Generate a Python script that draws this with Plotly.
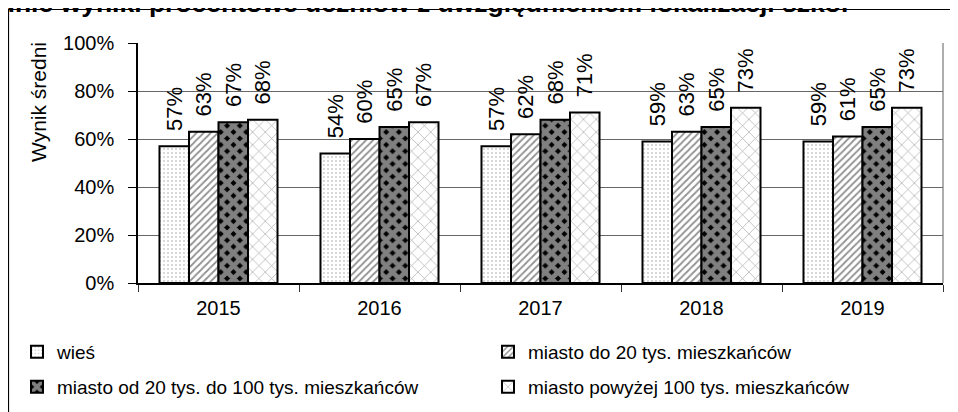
import plotly.graph_objects as go

years = ["2015", "2016", "2017", "2018", "2019"]
series_names = [
    "wieś",
    "miasto do 20 tys. mieszkańców",
    "miasto od 20 tys. do 100 tys. mieszkańców",
    "miasto powyżej 100 tys. mieszkańców",
]
wies = [0.57, 0.54, 0.57, 0.59, 0.59]
miasto_do_20 = [0.63, 0.60, 0.62, 0.63, 0.61]
miasto_20_100 = [0.67, 0.65, 0.68, 0.65, 0.65]
miasto_pow_100 = [0.68, 0.67, 0.71, 0.73, 0.73]
y_ticks = [0, 0.2, 0.4, 0.6, 0.8, 1.0]
title_text = "Średnie wyniki procentowe uczniów z uwzględnieniem lokalizacji szkół"
y_title = "Wynik średni"

values = [wies, miasto_do_20, miasto_20_100, miasto_pow_100]
patterns = [
    dict(shape=".", fgcolor="#444444", bgcolor="white", size=4, solidity=0.12),
    dict(shape="/", fgcolor="#222222", bgcolor="white", size=5, solidity=0.35),
    dict(shape="x", fgcolor="white", bgcolor="black", size=9, solidity=0.78),
    dict(shape="x", fgcolor="#555555", bgcolor="white", size=9, solidity=0.15),
]
legend_ids = ["legend", "legend2", "legend3", "legend4"]

FONT = "Liberation Sans, Arial, sans-serif"

# plot area in page pixels (the page body has an 8px margin)
PL, PT, PR, PB = 138, 43, 943, 283
OFF = 8
PW, PH = PR - PL, PB - PT


def px(xp):
    return (xp - PL) / PW


def py(yp):
    return (PB - yp) / PH


fig = go.Figure()
for name, vals, pat, lg in zip(series_names, values, patterns, legend_ids):
    fig.add_trace(go.Bar(
        x=years, y=vals, name=name, legend=lg,
        marker=dict(color="white", pattern=pat, line=dict(color="black", width=2)),
        texttemplate="\u00a0\u00a0%{y:.0%}",
        textposition="outside",
        textangle=-90,
        constraintext="none",
        cliponaxis=False,
        textfont=dict(family=FONT, size=22, color="black"),
    ))

legend_common = dict(
    orientation="h", xanchor="left", yanchor="middle",
    font=dict(family=FONT, size=19, color="black"),
    itemwidth=30, bgcolor="rgba(0,0,0,0)",
)
# legend positions (page pixels): two columns, two rows
legend_pos = [(17, 352), (488, 352), (17, 387), (488, 387)]

layout_legends = {}
for lg, (lx, ly) in zip(legend_ids, legend_pos):
    layout_legends[lg] = dict(legend_common, x=px(lx), y=py(ly))

fig.update_layout(
    width=958, height=412,
    margin=dict(l=PL - OFF, r=958 - (PR - OFF), t=PT - OFF, b=412 - (PB - OFF),
                autoexpand=False),
    paper_bgcolor="white", plot_bgcolor="white",
    barmode="group", bargap=0.267, bargroupgap=0,
    font=dict(family=FONT, color="black"),
    showlegend=True,
    xaxis=dict(
        type="category", tickson="boundaries", ticks="outside", ticklen=7,
        tickcolor="#333333", showline=True, linecolor="black", linewidth=1.5,
        showgrid=False, tickfont=dict(family=FONT, size=20, color="black"),
        ticklabelstandoff=6,
    ),
    yaxis=dict(
        range=[0, 1], tickvals=y_ticks, tickformat=".0%",
        ticks="outside", ticklen=8, tickcolor="black",
        showline=True, linecolor="black", linewidth=1.5,
        showgrid=True, gridcolor="#666666", gridwidth=1, zeroline=False,
        tickfont=dict(family=FONT, size=20, color="black"),
        ticklabelstandoff=10,
    ),
    **layout_legends,
)

# plot right border
fig.add_shape(type="line", xref="paper", yref="paper", x0=1, x1=1, y0=0, y1=1,
              line=dict(color="#777777", width=1.2))
# outer chart frame (extends beyond the visible image)
fig.add_shape(type="rect", xref="paper", yref="paper",
              x0=px(8.5), x1=px(975), y0=py(430), y1=py(9.5),
              line=dict(color="black", width=1.2), layer="below")

fig.add_annotation(text=title_text, xref="paper", yref="paper",
                   x=px(851), y=py(20),
                   xanchor="right", yanchor="bottom", showarrow=False,
                   font=dict(family=FONT, size=26.5, color="black", weight="bold"))
fig.add_annotation(text=y_title, xref="paper", yref="paper",
                   x=px(38), y=py(102),
                   xanchor="center", yanchor="middle", textangle=-90, showarrow=False,
                   font=dict(family=FONT, size=21, color="black"))

fig.write_html("out.html")
